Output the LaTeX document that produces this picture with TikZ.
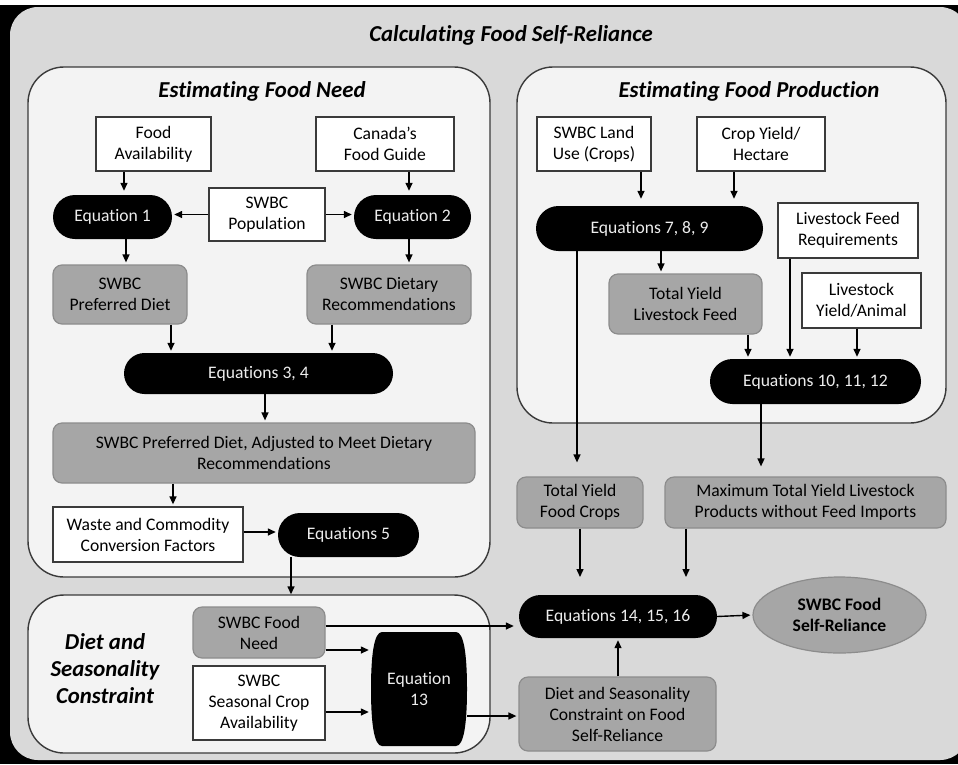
\documentclass[tikz,border=0pt]{standalone}
\usepackage{fontspec}
\setmainfont{Carlito}[Ligatures={NoCommon}]
\usetikzlibrary{shapes.misc,shapes.geometric,arrows.meta}
\definecolor{outerg}{HTML}{D9D9D9}
\definecolor{panelf}{HTML}{F3F3F3}
\definecolor{boxg}{HTML}{A6A6A6}
\definecolor{boxgd}{HTML}{8C8C8C}
\definecolor{edgec}{HTML}{3A3A3A}
\definecolor{eqtext}{HTML}{EDEDED}
\tikzset{
 body/.style={font=\fontsize{17.6}{21}\selectfont, align=center, inner sep=0pt},
 wbox/.style={body, draw=edgec, fill=white, line width=1.3pt},
 gbox/.style={body, draw=boxgd, fill=boxg, line width=1.2pt, rounded corners=9pt},
 eqn/.style={body, rounded rectangle, fill=black, text=eqtext},
 panel/.style={draw=edgec, fill=panelf, line width=1.4pt, rounded corners=36pt, inner sep=0pt},
 ttl/.style={font=\fontsize{22.8}{27}\selectfont\bfseries\itshape, align=center, inner sep=0pt},
 arr/.style={line width=1.4pt, -{Triangle[length=8pt,width=7pt]}, shorten >=2pt},
 ln/.style={line width=1.4pt},
 sz/.style 2 args={minimum width=#1pt, minimum height=#2pt},
}
\begin{document}
\begin{tikzpicture}[x=1pt,y=-1pt]
\useasboundingbox (0,0) rectangle (958,764);
% background
\fill[white] (0,0) rectangle (958,764);
\fill[black] (0,5) rectangle (958,764);
\fill[outerg, rounded corners=28pt] (10,7) rectangle (968,760);
% panels
\node[panel, sz={462}{510}] (needp) at (259,322) {};
\node[panel, sz={429}{356}] (prodp) at (731.5,245) {};
\node[panel, sz={462}{158}] (diep) at (259,674) {};
% titles
\node[ttl] (t0) at (511,35) {Calculating Food Self-Reliance};
\node[ttl] (t1) at (262,91) {Estimating Food Need};
\node[ttl] (t2) at (749,91) {Estimating Food Production};
\node[ttl] (t3) at (105,669) {Diet and\\Seasonality\\Constraint};
% left panel nodes
\node[wbox, sz={115}{54}] (fa) at (153.5,144) {Food\\Availability};
\node[wbox, sz={138}{54}] (cfg) at (385,144) {Canada’s\\Food Guide};
\node[wbox, sz={116}{53}] (pop) at (267,214.5) {SWBC\\Population};
\node[eqn, sz={119}{44}] (eq1) at (112.5,217) {Equation 1};
\node[eqn, sz={117}{44}] (eq2) at (412.5,217) {Equation 2};
\node[gbox, sz={134}{59}] (pd) at (120,294.5) {SWBC\\Preferred Diet};
\node[gbox, sz={164}{59}] (dr) at (389,294.5) {SWBC Dietary\\Recommendations};
\node[eqn, sz={269}{41}] (eq34) at (258.5,373.5) {Equations 3, 4};
\node[gbox, sz={422}{60}] (adj) at (264,453) {SWBC Preferred Diet, Adjusted to Meet Dietary\\Recommendations};
\node[wbox, sz={190}{55}] (waste) at (148,534.5) {Waste and Commodity\\Conversion Factors};
\node[eqn, sz={141}{44}] (eq5) at (348.5,535) {Equations 5};
% bottom panel nodes
\node[gbox, sz={132}{51}] (fn) at (259,632.5) {SWBC Food\\Need};
\node[wbox, sz={132}{74}] (sca) at (259,703) {SWBC\\Seasonal Crop\\Availability};
\fill[black] (382,632) -- (456,632) .. controls (464,632) and (467,655) .. (467,689)
  .. controls (467,723) and (464,746) .. (456,746) -- (382,746)
  .. controls (374,746) and (371,723) .. (371,689)
  .. controls (371,655) and (374,632) .. (382,632) -- cycle;
\node[body, text=eqtext, sz={96}{114}] (eq13) at (419,689) {Equation\\13};
% right panel nodes
\node[wbox, sz={114}{54}] (lu) at (594,144) {SWBC Land\\Use (Crops)};
\node[wbox, sz={128}{54}] (cy) at (761,144) {Crop Yield/\\Hectare};
\node[eqn, sz={227}{45}] (eq7) at (649.5,228.5) {Equations 7, 8, 9};
\node[wbox, sz={140}{55}] (lfr) at (848,230.5) {Livestock Feed\\Requirements};
\node[gbox, sz={153}{60}] (tylf) at (685.5,304) {Total Yield\\Livestock Feed};
\node[wbox, sz={119}{55}] (lya) at (861.5,300.5) {Livestock\\Yield/Animal};
\node[eqn, sz={211}{45}] (eq10) at (815.5,381.5) {Equations 10, 11, 12};
% lower right nodes
\node[gbox, sz={126}{51}] (tyfc) at (580,502.5) {Total Yield\\Food Crops};
\node[gbox, sz={281}{51}] (maxl) at (805.5,502.5) {Maximum Total Yield Livestock\\Products without Feed Imports};
\node[eqn, sz={198}{43}] (eq14) at (618,616.5) {Equations 14, 15, 16};
\node[body, ellipse, draw=boxgd, fill=boxg, line width=1.2pt, sz={173}{76}, font=\fontsize{17.6}{21}\selectfont\bfseries] (sfr) at (839.5,615) {SWBC Food\\Self-Reliance};
\node[gbox, sz={197}{74}] (dsc) at (617.5,714) {Diet and Seasonality\\Constraint on Food\\Self-Reliance};
% free ends
\coordinate (c1) at (580,577);
\coordinate (c2) at (686,577);
% arrows left panel
\draw[arr, shorten >=4pt] (124,0 |- fa.south) -- (124,0 |- eq1.north);
\draw[arr, shorten >=4pt] (409,0 |- cfg.south) -- (409,0 |- eq2.north);
\draw[arr] (pop.west) -- (pop.west -| eq1.east);
\draw[arr] (pop.east) -- (pop.east -| eq2.west);
\draw[arr] (126,0 |- eq1.south) -- (126,0 |- pd.north);
\draw[arr] (409,0 |- eq2.south) -- (409,0 |- dr.north);
\draw[arr] (171,0 |- pd.south) -- (171,0 |- eq34.north);
\draw[arr] (332,0 |- dr.south) -- (332,0 |- eq34.north);
\draw[arr] (265,0 |- eq34.south) -- (265,0 |- adj.north);
\draw[arr] (173,0 |- adj.south) -- (173,0 |- waste.north);
\draw[arr] (waste.east |- 0,532) -- (eq5.west |- 0,532);
\draw[arr, shorten >=0pt] (291,0 |- eq5.south) -- (291,0 |- diep.north);
% bottom panel arrows
\draw[arr] (fn.east |- 0,650) -- (eq13.west |- 0,650);
\draw[arr] (sca.east |- 0,712) -- (eq13.west |- 0,712);
\draw[arr, shorten >=5pt] (fn.east |- 0,626) -- (eq14.west |- 0,626);
\draw[arr] (eq13.east |- 0,716) -- (dsc.west |- 0,716);
% lower right arrows
\draw[arr] (eq14.east) -- (sfr.west);
\draw[arr] (618,0 |- dsc.north) -- (618,0 |- eq14.south);
\draw[arr, shorten >=0pt] (580,0 |- tyfc.south) -- (c1);
\draw[arr, shorten >=0pt] (686,0 |- maxl.south) -- (c2);
% right panel arrows
\draw[arr, shorten >=7pt] (641,0 |- lu.south) -- (641,0 |- eq7.north);
\draw[arr, shorten >=7pt] (734,0 |- cy.south) -- (734,0 |- eq7.north);
\draw[arr, shorten >=14pt] (577,0 |- eq7.south) -- (577,0 |- tyfc.north);
\draw[arr] (661,0 |- eq7.south) -- (661,0 |- tylf.north);
\draw[arr] (790,0 |- lfr.south) -- (790,0 |- eq10.north);
\draw[arr] (748,0 |- tylf.south) -- (748,0 |- eq10.north);
\draw[arr] (857,0 |- lya.south) -- (857,0 |- eq10.north);
\draw[arr, shorten >=10pt] (761,0 |- eq10.south) -- (761,0 |- maxl.north);
\end{tikzpicture}
\end{document}
